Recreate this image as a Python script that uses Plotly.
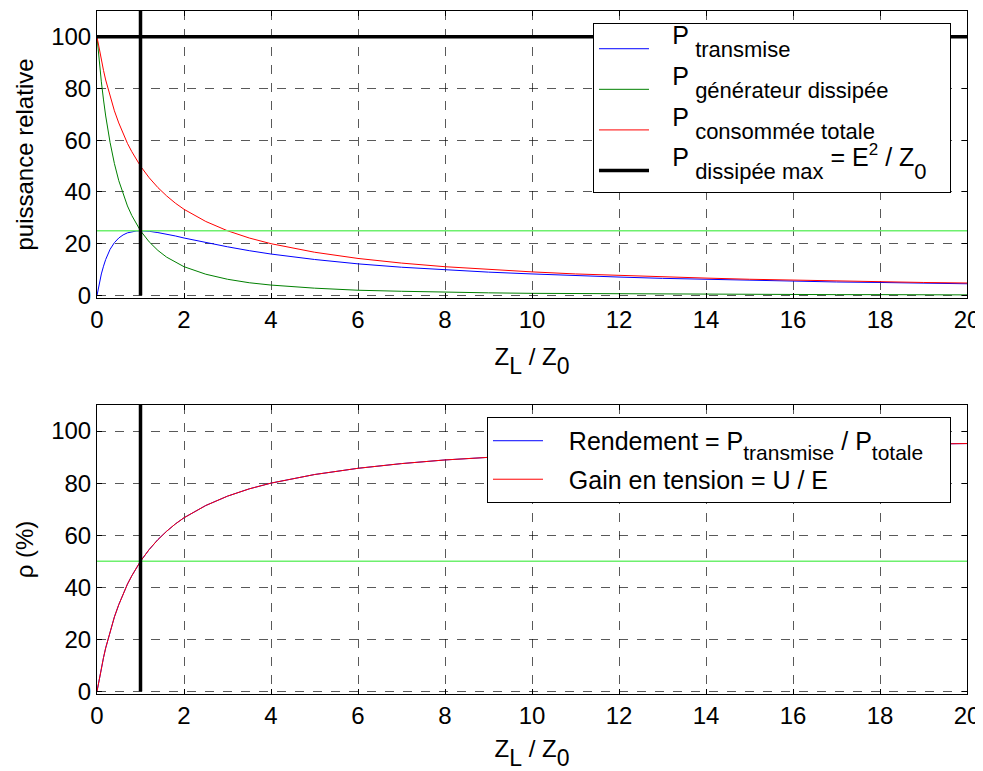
import plotly.graph_objects as go
from plotly.subplots import make_subplots

# ---- data ----
zl_z0 = [0, 0.05, 0.1, 0.15, 0.2, 0.3, 0.4, 0.5, 0.6, 0.7, 0.8, 0.9, 1.0, 1.2, 1.4, 1.6, 1.8, 2.0,
         2.5, 3.0, 3.5, 4.0, 5, 6, 7, 8, 9, 10, 11, 12, 13, 14, 15, 16, 17, 18, 19, 20]
p_transmise = [0, 4.5, 8.3, 11.3, 13.9, 17.8, 20.4, 22.2, 23.4, 24.2, 24.7, 24.9, 25.0, 24.8, 24.3,
               23.7, 23.0, 22.2, 20.4, 18.8, 17.3, 16.0, 13.9, 12.2, 10.9, 9.9, 9.0, 8.3, 7.6, 7.1,
               6.6, 6.2, 5.9, 5.5, 5.2, 5.0, 4.75, 4.5]
p_generateur = [100, 90.7, 82.6, 75.6, 69.4, 59.2, 51.0, 44.4, 39.1, 34.6, 30.9, 27.7, 25.0, 20.7,
                17.4, 14.8, 12.8, 11.1, 8.2, 6.25, 4.9, 4.0, 2.8, 2.0, 1.6, 1.2, 1.0, 0.8, 0.7,
                0.6, 0.5, 0.4, 0.4, 0.35, 0.3, 0.3, 0.25, 0.2]
p_totale = [100, 95.2, 90.9, 87.0, 83.3, 76.9, 71.4, 66.7, 62.5, 58.8, 55.6, 52.6, 50.0, 45.5, 41.7,
            38.5, 35.7, 33.3, 28.6, 25.0, 22.2, 20.0, 16.7, 14.3, 12.5, 11.1, 10.0, 9.1, 8.3, 7.7,
            7.1, 6.7, 6.25, 5.9, 5.6, 5.3, 5.0, 4.8]
rendement = [0, 4.8, 9.1, 13.0, 16.7, 23.1, 28.6, 33.3, 37.5, 41.2, 44.4, 47.4, 50.0, 54.5, 58.3,
             61.5, 64.3, 66.7, 71.4, 75.0, 77.8, 80.0, 83.3, 85.7, 87.5, 88.9, 90.0, 90.9, 91.7,
             92.3, 92.9, 93.3, 93.75, 94.1, 94.4, 94.7, 95.0, 95.2]
gain_tension = list(rendement)

p_max = 100
p_adapt = 25
rho_adapt = 50
z_adapt = 1
x_range = [0, 20]
y_range = [-1, 110]
x_ticks = [0, 2, 4, 6, 8, 10, 12, 14, 16, 18, 20]
y_ticks = [0, 20, 40, 60, 80, 100]

FONT = "Liberation Sans, Arial, sans-serif"
LGREEN = "#6ef06e"
FS = 24
NB = "\u00a0"


def sp(t, shift, size):
    return f'<span style="baseline-shift:{shift}px;font-size:{size}px">{t}</span>'


def up(t):  # main-level text in top legend (base font = subscript size)
    return sp(t, 13, 25)


PAD_L = NB * 3
PAD_R = NB * 3

fig = make_subplots(rows=2, cols=1, vertical_spacing=0.1567)

# top subplot
fig.add_trace(go.Scatter(x=zl_z0, y=p_transmise, mode="lines", line=dict(color="#0000ff", width=1),
                         name=PAD_L + up("P") + " transmise", legend="legend", legendgroup="a"),
              row=1, col=1)
fig.add_trace(go.Scatter(x=zl_z0, y=p_generateur, mode="lines", line=dict(color="#008000", width=1),
                         name=PAD_L + up("P") + " générateur dissipée", legend="legend", legendgroup="b"),
              row=1, col=1)
fig.add_trace(go.Scatter(x=zl_z0, y=p_totale, mode="lines", line=dict(color="#ff0000", width=1),
                         name=PAD_L + up("P") + " consommée totale", legend="legend", legendgroup="c"),
              row=1, col=1)
fig.add_trace(go.Scatter(x=x_range, y=[p_max, p_max], mode="lines", line=dict(color="black", width=3.5),
                         name=PAD_L + up("P") + " dissipée max" + up(" = E") + sp("2", 24, 17)
                         + up(" / Z") + "0" + PAD_R,
                         legend="legend", legendgroup="d"),
              row=1, col=1)
fig.add_trace(go.Scatter(x=x_range, y=[p_adapt, p_adapt], mode="lines", line=dict(color=LGREEN, width=1.5),
                         showlegend=False), row=1, col=1)
fig.add_trace(go.Scatter(x=[z_adapt, z_adapt], y=[0, y_range[1]], mode="lines",
                         line=dict(color="black", width=3.5), showlegend=False), row=1, col=1)

# bottom subplot
fig.add_trace(go.Scatter(x=zl_z0, y=rendement, mode="lines", line=dict(color="#0000ff", width=1),
                         name=PAD_L + "Rendement = P" + sp("transmise", -10, 21) + " / P"
                         + sp("totale", -10, 21) + PAD_R,
                         legend="legend2", legendgroup="e"),
              row=2, col=1)
fig.add_trace(go.Scatter(x=zl_z0, y=gain_tension, mode="lines", line=dict(color="#ff0000", width=1),
                         name=PAD_L + "Gain en tension = U / E", legend="legend2", legendgroup="f"),
              row=2, col=1)
fig.add_trace(go.Scatter(x=x_range, y=[rho_adapt, rho_adapt], mode="lines", line=dict(color=LGREEN, width=1.5),
                         showlegend=False), row=2, col=1)
fig.add_trace(go.Scatter(x=[z_adapt, z_adapt], y=[0, y_range[1]], mode="lines",
                         line=dict(color="black", width=3.5), showlegend=False), row=2, col=1)

axis_common = dict(showline=True, linecolor="black", linewidth=1, mirror="ticks",
                   ticks="inside", ticklen=5, tickcolor="black", showgrid=True,
                   gridcolor="rgba(0,0,0,0.65)", griddash="dash", gridwidth=1, zeroline=False,
                   automargin=False,
                   tickfont=dict(family=FONT, size=FS, color="black"))

xtitle = "Z" + sp("L", -9, FS - 1) + " / Z" + sp("0", -9, FS - 1)
for r in (1, 2):
    fig.update_xaxes(range=x_range, tickvals=x_ticks, **axis_common,
                     title=dict(text=xtitle,
                                font=dict(family=FONT, size=FS, color="black"), standoff=16),
                     row=r, col=1)
fig.update_yaxes(range=y_range, tickvals=y_ticks, **axis_common,
                 title=dict(text="puissance relative", font=dict(family=FONT, size=FS, color="black"),
                            standoff=10), row=1, col=1)
fig.update_yaxes(range=y_range, tickvals=y_ticks, **axis_common,
                 title=dict(text="ρ (%)", font=dict(family=FONT, size=FS, color="black"),
                            standoff=10), row=2, col=1)

legend_common = dict(bgcolor="white", bordercolor="black", borderwidth=1,
                     xanchor="right", yanchor="top", itemwidth=50)

fig.update_layout(
    width=975, height=763,
    paper_bgcolor="white", plot_bgcolor="white",
    margin=dict(l=89, r=16, t=3, b=77),
    legend=dict(x=0.9816, y=0.9824, tracegroupgap=9,
                font=dict(family=FONT, size=22, color="black"),
                title=dict(text=" ", font=dict(size=3)), **legend_common),
    legend2=dict(x=0.9816, y=0.4056, tracegroupgap=3,
                 font=dict(family=FONT, size=25, color="black"), **legend_common),
    font=dict(family=FONT, color="black"),
)
fig.update_xaxes(domain=[0, 1])
fig.update_yaxes(domain=[0.5798, 1.0], row=1, col=1)
fig.update_yaxes(domain=[0.0, 0.4231], row=2, col=1)

fig.write_html("out.html")
